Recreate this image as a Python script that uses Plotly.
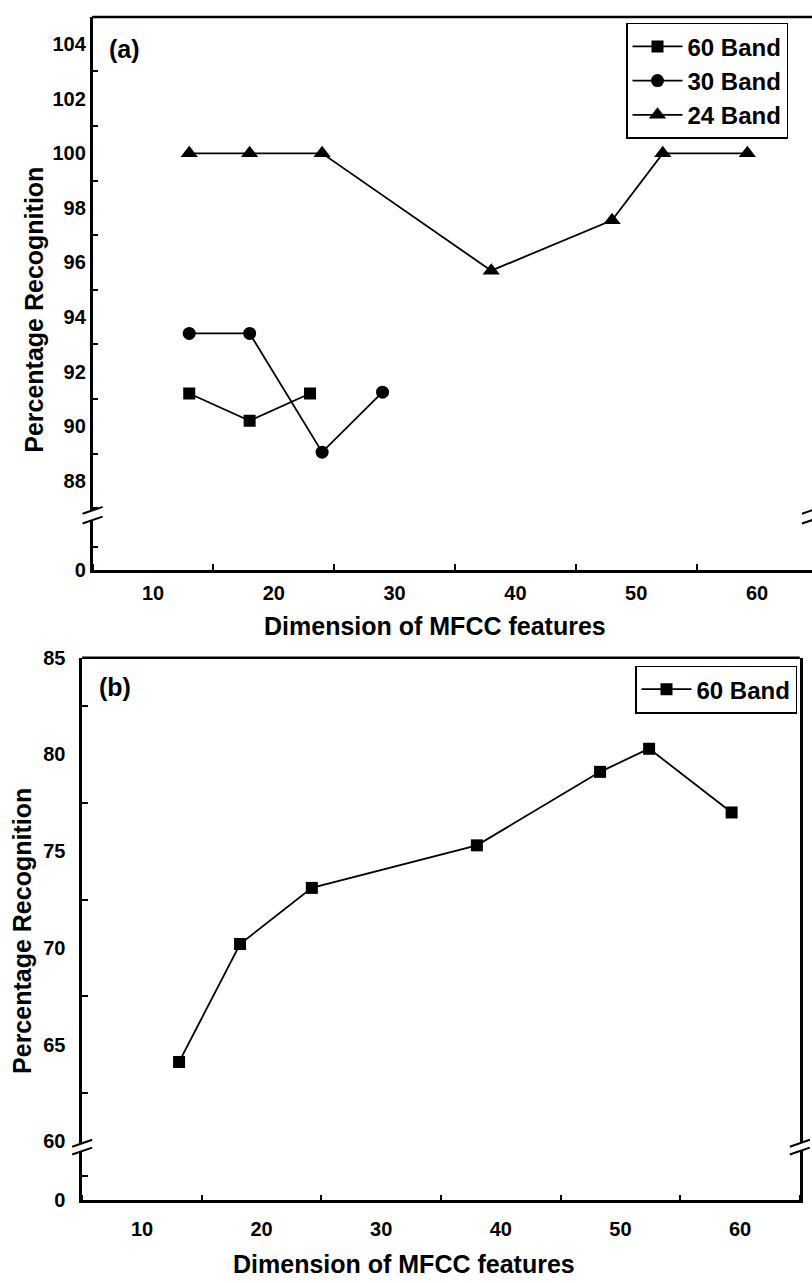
import plotly.graph_objects as go

W, H = 812, 1283

# ---------------- data ----------------
# panel (a)
dims_a60 = [13, 18, 23]
rec_a60 = [91.2, 90.2, 91.2]
dims_a30 = [13, 18, 24, 29]
rec_a30 = [93.4, 93.4, 89.05, 91.25]
dims_a24 = [13, 18, 24, 38, 48, 52.2, 59.2]
rec_a24 = [100, 100, 100, 95.7, 97.55, 100, 100]
# panel (b)
dims_b60 = [13.1, 18.2, 24.2, 38, 48.3, 52.4, 59.3]
rec_b60 = [64.1, 70.2, 73.1, 75.3, 79.1, 80.3, 77.0]

series_names = ["60 Band", "30 Band", "24 Band"]
x_title = "Dimension of MFCC features"
y_title = "Percentage Recognition"

FONT = "Liberation Sans, Arial, sans-serif"


def px(x):
    return x / W


def py(y):
    return 1 - y / H


fig = go.Figure()

line_style = dict(color="black", width=1.8)
fig.add_trace(go.Scatter(x=dims_a60, y=rec_a60, name=series_names[0], mode="lines+markers",
                         line=line_style, marker=dict(symbol="square", size=12, color="black"),
                         xaxis="x", yaxis="y", legend="legend"))
fig.add_trace(go.Scatter(x=dims_a30, y=rec_a30, name=series_names[1], mode="lines+markers",
                         line=line_style, marker=dict(symbol="circle", size=13, color="black"),
                         xaxis="x", yaxis="y", legend="legend"))
fig.add_trace(go.Scatter(x=dims_a24, y=rec_a24, name=series_names[2], mode="lines+markers",
                         line=line_style, marker=dict(symbol="triangle-up", size=15, color="black"),
                         xaxis="x", yaxis="y", legend="legend"))
fig.add_trace(go.Scatter(x=dims_b60, y=rec_b60, name=series_names[0], mode="lines+markers",
                         line=line_style, marker=dict(symbol="square", size=12, color="black"),
                         xaxis="x2", yaxis="y3", legend="legend2"))
# empty traces so the lower (broken) axis segments get their subplots
fig.add_trace(go.Scatter(x=[], y=[], xaxis="x", yaxis="y2", showlegend=False))
fig.add_trace(go.Scatter(x=[], y=[], xaxis="x2", yaxis="y4", showlegend=False))

tickfont = dict(family=FONT, size=20, color="black", weight="bold")
axis_common = dict(showline=True, linecolor="black", linewidth=2.5, showgrid=False,
                   zeroline=False, ticks="", tickfont=tickfont)

# top panel geometry (pixels)
a_left, a_right = 92.6, 812.0
a_top, a_bot = 6.0, 569.0
a_brk_up, a_brk_lo = 508.0, 518.0
# bottom panel geometry
b_left, b_right = 82.2, 799.8
b_top, b_bot = 658.0, 1210.0
b_brk_up, b_brk_lo = 1152.0, 1160.0

minor_style = dict(ticks="inside", ticklen=6, tickwidth=2, tickcolor="black")

fig.update_layout(
    width=W, height=H,
    margin=dict(l=0, r=0, t=0, b=0),
    paper_bgcolor="white", plot_bgcolor="white",
    font=dict(family=FONT, color="black"),
    xaxis=dict(domain=[px(a_left), px(a_right)], range=[5, 5 + (a_right - a_left) / 12.08],
               anchor="y2", dtick=10, tick0=0,
               minor=dict(dtick=5, tick0=0, **minor_style),
               ticklabelstandoff=3, **axis_common),
    yaxis=dict(domain=[py(a_brk_up), py(a_top)], range=[86.92, 105.0], anchor="x",
               dtick=2, tick0=0,
               minor=dict(dtick=1, tick0=0, **minor_style),
               **axis_common),
    yaxis2=dict(domain=[py(a_bot), py(a_brk_lo)], range=[0, 2.125], anchor="x",
                tickvals=[0],
                minor=dict(tickvals=[1], **minor_style),
                **axis_common),
    xaxis2=dict(domain=[px(b_left), px(b_right)], range=[5, 65], anchor="y4", dtick=10, tick0=0,
                minor=dict(dtick=5, tick0=0, **minor_style),
                ticklabelstandoff=9, **axis_common),
    yaxis3=dict(domain=[py(b_brk_up), py(b_top)], range=[59.9, 85.0], anchor="x2",
                dtick=5, tick0=0, mirror=True, ticklabelstandoff=10,
                minor=dict(dtick=2.5, tick0=0, **minor_style),
                **axis_common),
    yaxis4=dict(domain=[py(b_bot), py(b_brk_lo)], range=[0, 2.0], anchor="x2",
                tickvals=[0], mirror=True, ticklabelstandoff=10,
                minor=dict(tickvals=[1], **minor_style),
                **axis_common),
    legend=dict(x=px(788), y=py(12), xanchor="right", yanchor="top",
                bordercolor="black", borderwidth=1.5, bgcolor="white",
                font=dict(family=FONT, size=24, color="black", weight="bold"),
                tracegroupgap=0, itemwidth=50),
    legend2=dict(x=px(797), y=py(666), xanchor="right", yanchor="top",
                 bordercolor="black", borderwidth=1.5, bgcolor="white",
                 font=dict(family=FONT, size=24, color="black", weight="bold"),
                 tracegroupgap=0, itemwidth=50),
    showlegend=True,
)

shapes = []


def seg(x0, y0, x1, y1, w=2.5):
    shapes.append(dict(type="line", xref="paper", yref="paper",
                       x0=px(x0), y0=py(y0), x1=px(x1), y1=py(y1),
                       line=dict(color="black", width=w)))


# top borders
seg(a_left, a_top, a_right + 5, a_top)
seg(b_left, b_top, b_right, b_top)
# axis break marks
for cx, cy_up, cy_lo in [(a_left, a_brk_up, a_brk_lo), (a_right, a_brk_up, a_brk_lo),
                         (b_left, b_brk_up, b_brk_lo), (b_right, b_brk_up, b_brk_lo)]:
    seg(cx - 10, cy_up + 3.5, cx + 10, cy_up - 3.5, 2)
    seg(cx - 10, cy_lo + 3.5, cx + 10, cy_lo - 3.5, 2)
fig.update_layout(shapes=shapes)

title_font = dict(family=FONT, size=25, color="black", weight="bold")
ann = [
    dict(text=x_title, x=px(435), y=py(626), xanchor="center", yanchor="middle"),
    dict(text=x_title, x=px(404), y=py(1283), xanchor="center", yanchor="bottom", yshift=-8),
    dict(text=y_title, x=px(34), y=py(304), xanchor="center", yanchor="middle", textangle=-90),
    dict(text=y_title, x=px(22), y=py(936), xanchor="center", yanchor="middle", textangle=-90),
    dict(text="(a)", x=px(124), y=py(39), xanchor="center", yanchor="middle"),
    dict(text="(b)", x=px(115), y=py(688), xanchor="center", yanchor="middle"),
]
for a in ann:
    a.update(xref="paper", yref="paper", showarrow=False, font=title_font)
fig.update_layout(annotations=ann)

fig.write_html("out.html")
